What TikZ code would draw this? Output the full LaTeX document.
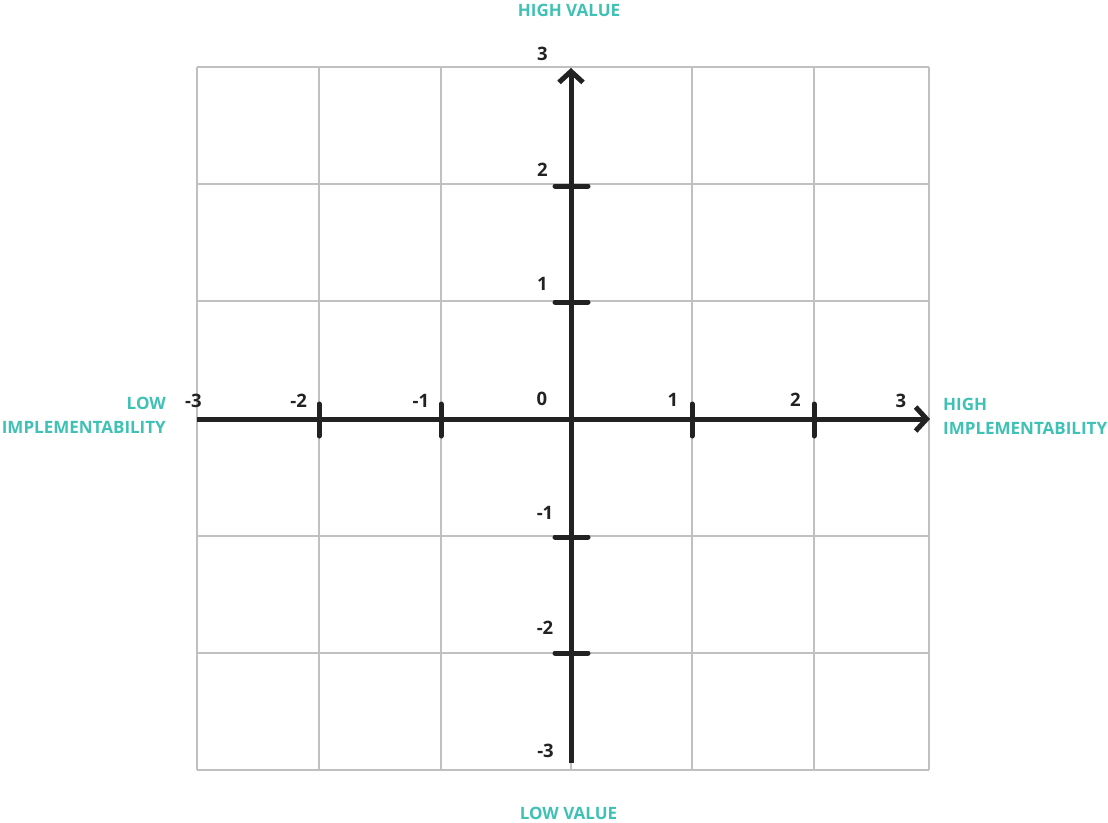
\documentclass[tikz,border=0pt]{standalone}
\usepackage{fontspec}
\setmainfont{Open Sans}
\usetikzlibrary{arrows.meta}
\definecolor{tealc}{RGB}{64,193,181}
\definecolor{axisc}{RGB}{34,34,34}
\definecolor{gridc}{RGB}{192,192,192}
\begin{document}
\begin{tikzpicture}[x=1pt,y=-1pt,
  gridline/.style={draw=gridc, line width=1.4pt},
  axisline/.style={draw=axisc, line width=5pt, -{Straight Barb[length=11pt,width=24pt]}},
  tickmark/.style={draw=axisc, line width=5pt, line cap=round},
  num/.style={font=\fontsize{18.5}{20}\selectfont\bfseries, text=axisc, inner sep=0pt},
  lab/.style={font=\fontsize{17}{24}\selectfont\bfseries, text=tealc, inner sep=0pt}]
\useasboundingbox (0,0) rectangle (1108,822);
\fill[white] (0,0) rectangle (1108,822);
% grid
\foreach \x in {197,319,441,571,692,814,929} \draw[gridline] (\x,67) -- (\x,770);
\foreach \y in {67,184,301,419,536,653,770} \draw[gridline] (197,\y) -- (929,\y);
% axes
\coordinate (xs) at (197,419);
\coordinate (xe) at (930,419);
\coordinate (ys) at (571,763);
\coordinate (ye) at (571,68);
\draw[axisline] (xs) -- (xe);
\draw[axisline] (ys) -- (ye);
% ticks
\foreach \x in {319,441,692,814} \draw[tickmark] (\x,404) -- (\x,436);
\foreach \y in {186,302,537,653} \draw[tickmark] (555,\y) -- (588,\y);
% vertical numbers
\node[num] (v3) at (542.5,54) {3};
\node[num] (v2) at (542.5,170) {2};
\node[num] (v1) at (542.5,284) {1};
\node[num] (v0) at (542,399) {0};
\node[num] (vm1) at (545,513) {-1};
\node[num] (vm2) at (545,628) {-2};
\node[num] (vm3) at (545.5,750.5) {-3};
% horizontal numbers
\node[num] (hm3) at (193.5,401) {-3};
\node[num] (hm2) at (298.7,401) {-2};
\node[num] (hm1) at (421,401) {-1};
\node[num] (h1) at (673,399.5) {1};
\node[num] (h2) at (795.5,399.5) {2};
\node[num] (h3) at (901,401) {3};
% teal labels
\node[lab] (hv) at (569,10) {HIGH VALUE};
\node[lab] (lv) at (568.5,813.5) {LOW VALUE};
\node[lab, align=right, anchor=east] (li) at (166,415) {LOW\\IMPLEMENTABILITY};
\node[lab, align=left, anchor=west] (hi) at (943,416.5) {HIGH\\IMPLEMENTABILITY};
\end{tikzpicture}
\end{document}
